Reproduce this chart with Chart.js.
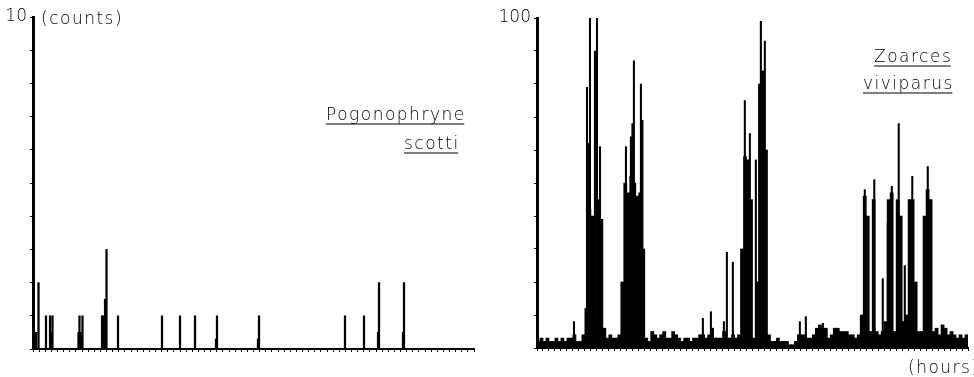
<!DOCTYPE html>
<html><head><meta charset="utf-8">
<script src="https://cdn.jsdelivr.net/npm/chart.js@4"></script>
<style>
html,body{margin:0;padding:0;background:#fff;}
#wrap{position:relative;width:974px;height:377px;overflow:hidden;}
canvas{position:absolute;top:0;}
#c1{left:0;} #c2{left:487px;}
</style></head><body>
<div id="wrap"><canvas id="c1" width="487" height="377"></canvas><canvas id="c2" width="487" height="377"></canvas></div>
<script>
// ---- data (hours since start, counts) ----
const hourMax = 72;
const pogoHours  = [0.25,0.5,0.9,2.12,2.78,2.94,3.18,7.43,7.59,7.84,8.08,11.27,11.51,11.76,12.0,13.88,21.06,24.0,26.45,29.88,30.04,36.73,36.9,50.94,54.04,56.33,56.49,60.41,60.57];
const pogoCounts = [0.5,0.5,2,1,1,0.5,1,0.5,1,0.5,1,1,1,1.5,3,1,1,1,1,0.3,1,0.3,1,1,1,0.5,2,0.5,2];

// Zoarces: half-hour background activity (144 bins, 0-72 h)
const zoarcesHalfHourCounts = [
  2,3,2,3,2,2,3,2,3,2,3,3,
  4,2,2,4,12,42,40,8,45,39,
  6,3,4,3,3,4,
  20,50,47,52,50,46,47,30,
  3,2,5,4,3,4,5,3,3,5,4,3,2,3,3,2,3,3,4,4,3,4,6,3,3,3,5,3,3,4,3,4,
  30,58,57,45,3,20,80,84,60,
  4,2,2,3,2,2,2,1,1,2,4,4,4,3,3,4,6,7,6,6,3,4,6,6,5,5,5,4,4,3,4,10,
  46,40,5,45,5,4,5,8,45,47,5,45,40,8,10,45,45,20,5,5,40,48,45,5,6,4,7,6,4,5,4,3,4,3,4
];
// Zoarces: individual peak readings
const zoarcesPeakHours  = [6.18,8.35,8.6,8.85,9.68,10.02,10.52,14.86,15.69,15.94,16.19,17.36,17.61,27.71,29.05,31.22,31.72,32.72,34.72,35.56,36.56,37.40,38.06,43.91,44.91,47.75,54.76,56.34,57.76,58.6,59.27,60.43,61.44,62.69,65.28];
const zoarcesPeakCounts = [8,79,62,100,90,100,61,61,64,68,87,80,69,9,11,8,29,26,75,65,57,99,93,8,9.5,7.5,48,51,21,38,49,68,25,52,55];

const FONT = '"DejaVu Sans", "Liberation Sans", sans-serif';

const textPlugin = {
  id: 'texts',
  afterDraw(chart, args, opts) {
    const ctx = chart.ctx;
    ctx.save();
    ctx.fillStyle = '#000';
    ctx.strokeStyle = '#000';
    ctx.lineWidth = 1.2;
    ctx.font = opts.font;
    ctx.letterSpacing = opts.spacing;
    ctx.textAlign = 'left';
    ctx.textBaseline = 'alphabetic';
    for (const t of opts.items) {
      ctx.fillText(t.text, t.x, t.y);
      if (t.underline) {
        const w = ctx.measureText(t.text).width - parseFloat(opts.spacing);
        ctx.beginPath();
        ctx.moveTo(t.x, t.y + 4);
        ctx.lineTo(t.x + w, t.y + 4);
        ctx.stroke();
      }
    }
    ctx.restore();
  }
};

function pts(xs, ys) { return xs.map((x, i) => ({x: x, y: ys[i]})); }

function makeChart(id, datasets, yMax, yStep, yWidth, pad, xHeight, items) {
  return new Chart(document.getElementById(id), {
    type: 'bar',
    data: { datasets: datasets },
    options: {
      responsive: false,
      animation: false,
      layout: { padding: pad },
      plugins: { legend: { display: false }, tooltip: { enabled: false }, texts: { font: '200 17px ' + FONT, spacing: '1.5px', items: items } },
      scales: {
        x: {
          type: 'linear', min: 0, max: hourMax, offset: false,
          ticks: { display: false, stepSize: 1, autoSkip: false, maxTicksLimit: 200 },
          grid: { drawOnChartArea: false, drawTicks: true, tickLength: 3, color: '#000', lineWidth: 1, offset: false },
          border: { display: true, color: '#000', width: 2 },
          afterFit(s) { s.height = xHeight; }
        },
        y: {
          min: 0, max: yMax,
          ticks: { stepSize: yStep, autoSkip: false, padding: 3, color: '#000', font: { family: FONT, size: 17, weight: 200 },
                   callback: (v) => v === yMax ? String(yMax) : '' },
          grid: { drawOnChartArea: false, drawTicks: true, tickLength: 3, color: '#000', lineWidth: 1 },
          border: { display: true, color: '#000', width: 3 },
          afterFit(s) { s.width = yWidth; }
        }
      }
    },
    plugins: [textPlugin]
  });
}

const barBase = { backgroundColor: '#000', borderWidth: 0, grouped: false };

makeChart('c1',
  [Object.assign({ data: pts(pogoHours, pogoCounts), barThickness: 1.6 }, barBase)],
  10, 1, 33, { left: 0, top: 17, right: 13, bottom: 0 }, 28,
  [
    { text: '(counts)', x: 41, y: 24 },
    { text: 'Pogonophryne', x: 326, y: 120, underline: true },
    { text: 'scotti', x: 404, y: 149, underline: true }
  ]);

makeChart('c2',
  [
    Object.assign({ data: pts(zoarcesHalfHourCounts.map((_, i) => i * 0.5 + 0.25), zoarcesHalfHourCounts), barThickness: 3.1 }, barBase),
    Object.assign({ data: pts(zoarcesPeakHours, zoarcesPeakCounts), barThickness: 1.4 }, barBase)
  ],
  100, 10, 50, { left: 0, top: 18, right: 6, bottom: 0 }, 29,
  [
    { text: 'Zoarces', x: 387, y: 62, underline: true },
    { text: 'viviparus', x: 376, y: 89, underline: true },
    { text: '(hours)', x: 421, y: 373 }
  ]);
</script>
</body></html>
